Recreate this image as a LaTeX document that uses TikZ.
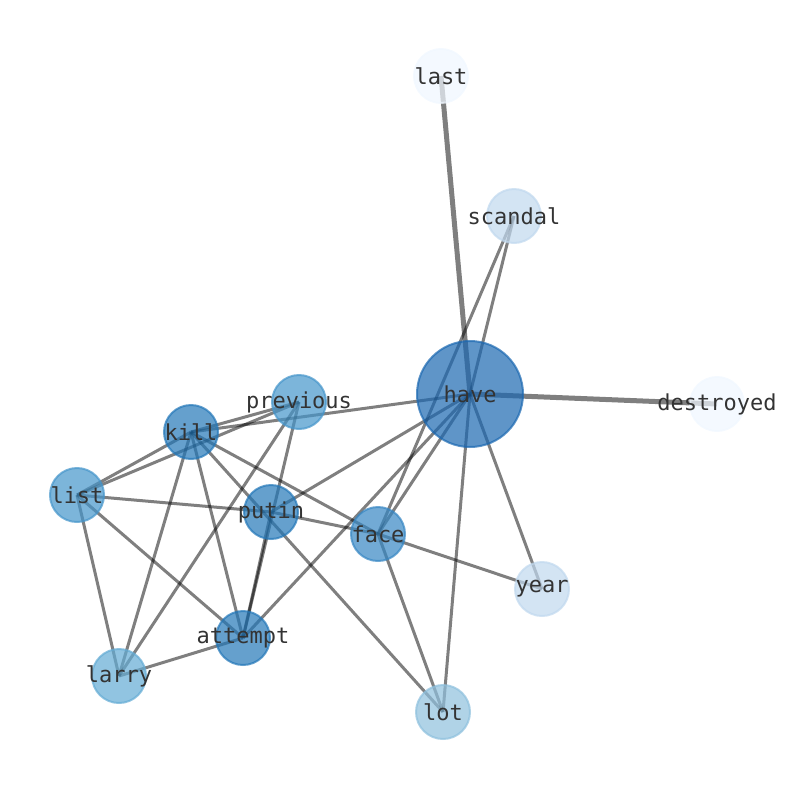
\documentclass[tikz,border=0pt]{standalone}
\usepackage{fontspec}
\setmonofont{DejaVu Sans Mono}
\usepackage{xcolor}
\usepackage{tikz}
\usetikzlibrary{backgrounds}
\definecolor{bluesA}{RGB}{27,104,177}
\definecolor{bluesB}{RGB}{35,119,184}
\definecolor{bluesC}{RGB}{54,134,195}
\definecolor{bluesD}{RGB}{69,149,202}
\definecolor{bluesE}{RGB}{99,171,212}
\definecolor{bluesF}{RGB}{142,192,221}
\definecolor{bluesG}{RGB}{192,216,238}
\definecolor{bluesH}{RGB}{240,247,255}
\newcommand{\wordlabel}[1]{\makebox[0pt][c]{#1}}
\tikzstyle{wordnode}=[shape=circle, minimum size=54pt, inner sep=0pt, line width=2pt, fill opacity=0.7, draw opacity=0.7, text opacity=1, text=black!80, font=\fontsize{22}{26}\selectfont\ttfamily]
\tikzstyle{wordedge}=[draw=black, draw opacity=0.5, line width=3pt]
\tikzstyle{heavyedge}=[draw=black, draw opacity=0.5, line width=5pt]

\begin{document}
\begin{tikzpicture}[x=1pt,y=-1pt]
\useasboundingbox (0,0) rectangle (794,790);
\node [wordnode, fill=bluesA, draw=bluesA, minimum size=106pt] (have) at (470,394) {\wordlabel{have}};
\node [wordnode, fill=bluesH, draw=bluesH] (last) at (441,76) {\wordlabel{last}};
\node [wordnode, fill=bluesG, draw=bluesG] (scandal) at (514,216) {\wordlabel{scandal}};
\node [wordnode, fill=bluesH, draw=bluesH] (destroyed) at (717,404) {\wordlabel{destroyed}};
\node [wordnode, fill=bluesD, draw=bluesD] (previous) at (299,402) {\wordlabel{previous}};
\node [wordnode, fill=bluesB, draw=bluesB] (kill) at (191,432) {\wordlabel{kill}};
\node [wordnode, fill=bluesD, draw=bluesD] (list) at (77,495) {\wordlabel{list}};
\node [wordnode, fill=bluesB, draw=bluesB] (putin) at (271,512) {\wordlabel{putin}};
\node [wordnode, fill=bluesC, draw=bluesC] (face) at (378,534) {\wordlabel{face}};
\node [wordnode, fill=bluesG, draw=bluesG] (year) at (542,589) {\wordlabel{year}};
\node [wordnode, fill=bluesB, draw=bluesB] (attempt) at (243,638) {\wordlabel{attempt}};
\node [wordnode, fill=bluesE, draw=bluesE] (larry) at (119,676) {\wordlabel{larry}};
\node [wordnode, fill=bluesF, draw=bluesF] (lot) at (443,712) {\wordlabel{lot}};

\begin{pgfonlayer}{background}
\draw[heavyedge] (have.center) -- (last.center);
\draw[heavyedge] (have.center) -- (destroyed.center);
\draw[wordedge] (have.center) -- (scandal.center);
\draw[wordedge] (have.center) -- (kill.center);
\draw[wordedge] (have.center) -- (putin.center);
\draw[wordedge] (have.center) -- (attempt.center);
\draw[wordedge] (have.center) -- (face.center);
\draw[wordedge] (have.center) -- (lot.center);
\draw[wordedge] (have.center) -- (year.center);
\draw[wordedge] (scandal.center) -- (face.center);
\draw[wordedge] (previous.center) -- (kill.center);
\draw[wordedge] (previous.center) -- (list.center);
\draw[wordedge] (previous.center) -- (larry.center);
\draw[wordedge] (previous.center) -- (attempt.center);
\draw[wordedge] (kill.center) -- (list.center);
\draw[wordedge] (kill.center) -- (larry.center);
\draw[wordedge] (kill.center) -- (attempt.center);
\draw[wordedge] (kill.center) -- (face.center);
\draw[wordedge] (kill.center) -- (lot.center);
\draw[wordedge] (list.center) -- (putin.center);
\draw[wordedge] (list.center) -- (attempt.center);
\draw[wordedge] (list.center) -- (larry.center);
\draw[wordedge] (putin.center) -- (face.center);
\draw[wordedge] (putin.center) -- (attempt.center);
\draw[wordedge] (attempt.center) -- (larry.center);
\draw[wordedge] (face.center) -- (year.center);
\draw[wordedge] (face.center) -- (lot.center);
\end{pgfonlayer}
\end{tikzpicture}
\end{document}
